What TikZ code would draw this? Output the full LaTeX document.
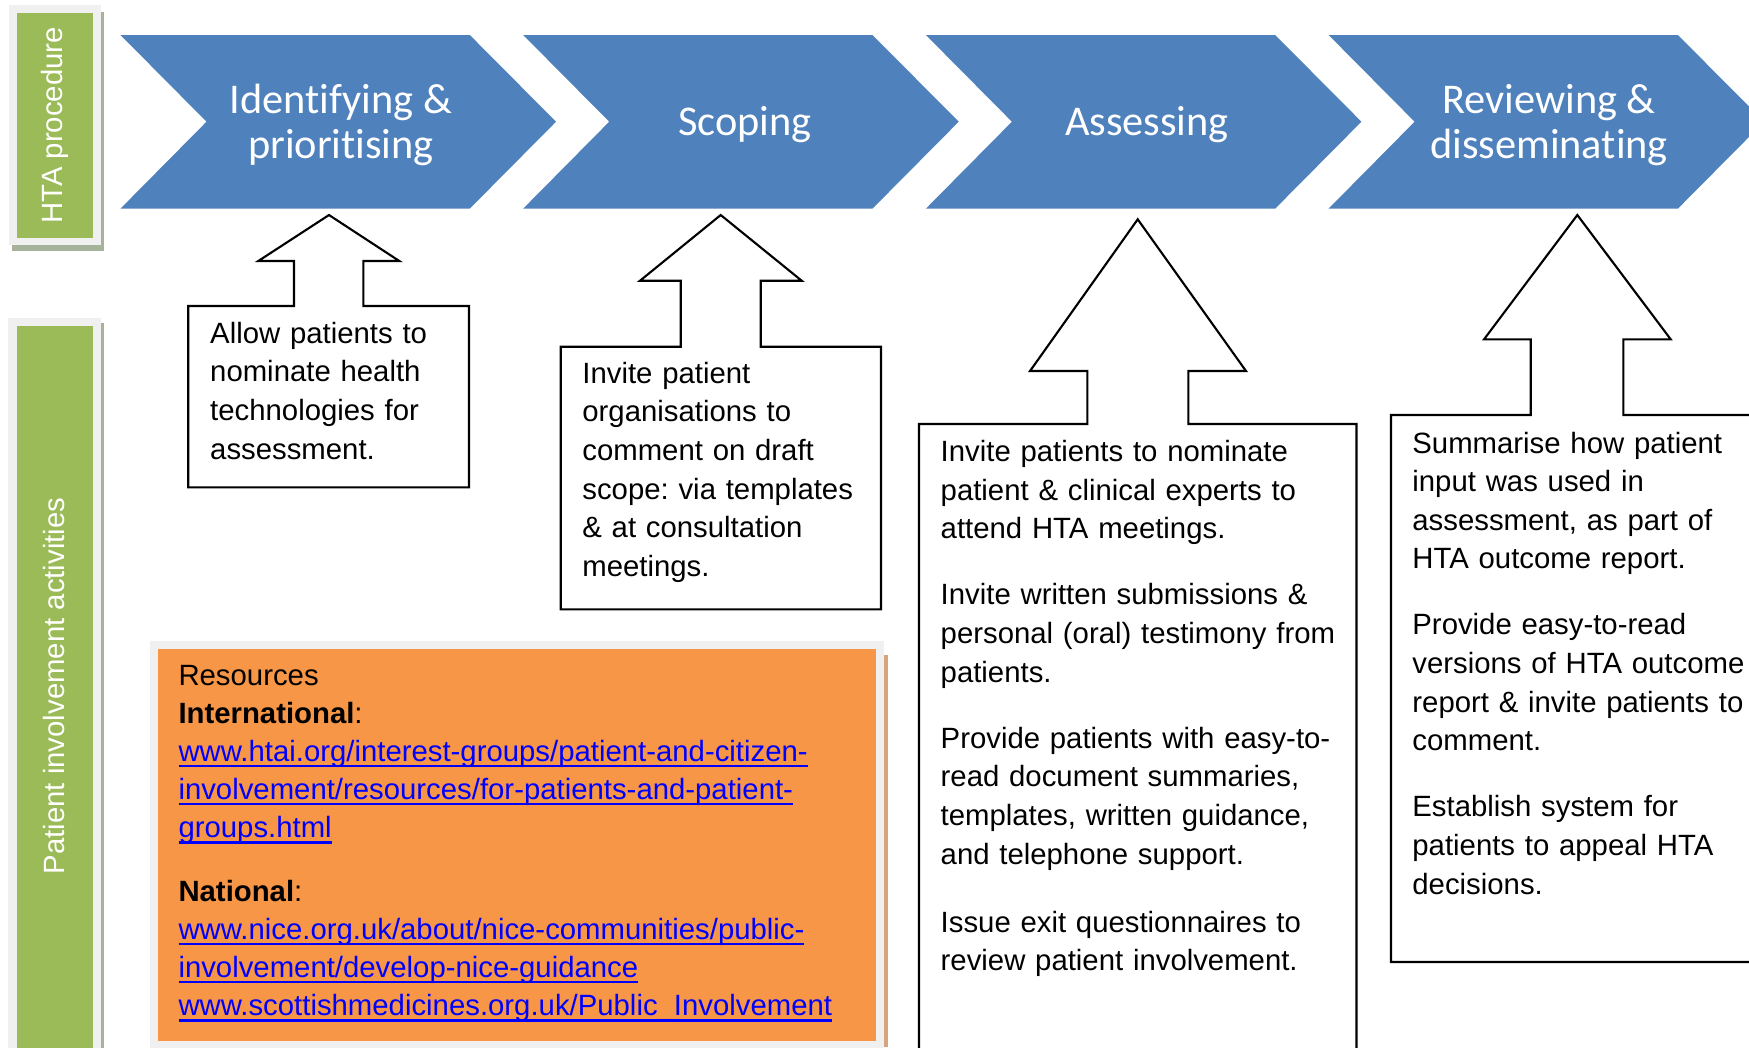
\documentclass[tikz,border=0pt]{standalone}
\usepackage{fontspec}
\setmainfont{Liberation Sans}
\newfontfamily\calib[Ligatures=NoCommon]{Carlito}
\usepackage{tikz}
\usetikzlibrary{calc}
\definecolor{stageblue}{HTML}{4F81BD}
\definecolor{bargreen}{HTML}{9BBB59}
\definecolor{barframe}{HTML}{F0F0F0}
\definecolor{barshadow}{HTML}{A7B29A}
\definecolor{resorange}{HTML}{F79646}
\definecolor{resshadow}{HTML}{D6A47E}
\definecolor{linkblue}{HTML}{0000FF}
\frenchspacing
\newcommand*\notefont{\fontsize{8.34pt}{10.98pt}\selectfont}
\newcommand*\stagefont{\calib\fontsize{12.04pt}{13pt}\selectfont}
\newsavebox\lnkbox
\newcommand*\lnk[1]{\textcolor{linkblue}{\sbox\lnkbox{#1}\rlap{\rule[-1.7pt]{\wd\lnkbox}{0.7pt}}\usebox\lnkbox}}
\tikzset{
  stage/.style={fill=stageblue},
  stagetext/.style={text=white, font=\stagefont, align=center, inner sep=0pt},
  note/.style={draw=black, fill=white, line width=0.6pt, line join=miter},
  notetext/.style={anchor=base west, inner sep=0pt, text width=8cm, align=left, font=\notefont},
  sidetext/.style={text=white, font=\notefont, rotate=90, inner sep=0pt}
}

\begin{document}
\begin{tikzpicture}[x=0.01cm, y=-0.01cm]
        \useasboundingbox (0,0) rectangle (1749,1047);
        \clip (0,0) rectangle (1749,1047);

        \fill[barshadow] (12,12) rectangle (104,251);
        \fill[barframe] (9,5) rectangle (101,245);
        \fill[bargreen] (17,13) rectangle (93,238);
        \fill[barshadow] (11,323) rectangle (104,1060);
        \fill[barframe] (8,318) rectangle (101,1060);
        \fill[bargreen] (17,325.5) rectangle (93,1060);

        \fill[stage] (120.5,35) -- (469.8,35) -- (556,121.7) -- (469.8,208.6) -- (120.5,208.6) -- (206.5,121.7) -- cycle;
        \fill[stage] (523.2,35) -- (872.5,35) -- (958.7,121.7) -- (872.5,208.6) -- (523.2,208.6) -- (609.2,121.7) -- cycle;
        \fill[stage] (925.9,35) -- (1275.2,35) -- (1361.4,121.7) -- (1275.2,208.6) -- (925.9,208.6) -- (1011.9,121.7) -- cycle;
        \fill[stage] (1328.6,35) -- (1677.9,35) -- (1764.1,121.7) -- (1677.9,208.6) -- (1328.6,208.6) -- (1414.6,121.7) -- cycle;

        \fill[resshadow] (884,655) rectangle (887.5,1047);
        \fill[barframe] (150,641) rectangle (884,1060);
        \fill[resorange] (158,649) rectangle (876,1041);

        \draw[note] (188.3,487.3) -- (188.3,306) -- (294,306) -- (294,261) -- (258.3,261) -- (329,215)
                -- (399.3,261) -- (363.3,261) -- (363.3,306) -- (469,306) -- (469,487.3) -- cycle;
        \draw[note] (560.7,609.3) -- (560.7,346.7) -- (680.7,346.7) -- (680.7,280.7) -- (640,280.7) -- (720.7,215)
                -- (801.7,280.7) -- (760.7,280.7) -- (760.7,346.7) -- (881,346.7) -- (881,609.3) -- cycle;
        \draw[note] (919,1070) -- (919,424) -- (1087.3,424) -- (1087.3,371) -- (1030,371) -- (1137.7,219.3)
                -- (1246,371) -- (1188.3,371) -- (1188.3,424) -- (1356.5,424) -- (1356.5,1070) -- cycle;
        \draw[note] (1391,962) -- (1391,415) -- (1530.7,415) -- (1530.7,339.3) -- (1484,339.3) -- (1577.3,215)
                -- (1670.7,339.3) -- (1623.3,339.3) -- (1623.3,415) -- (1780,415) -- (1780,962) -- cycle;

        \node[sidetext] (hta) at (55,125.5) {HTA procedure};
        \node[sidetext] (pia) at (54,686) {Patient involvement activities};

        \node[stagetext] (ident) at (341,125) {Identifying \&\\prioritising};
        \node[stagetext] (scop) at (745,125) {Scoping};
        \node[stagetext] (assess) at (1147,125) {Assessing};
        \node[stagetext] (review) at (1549,125) {Reviewing \&\\disseminating};

        \node[notetext] (allow) at (209.5,343.3) {Allow patients to\\nominate health\\technologies for\\assessment.};
        \node[notetext] (invite) at (581.7,383.3) {Invite patient\\organisations to\\comment on draft\\scope: via templates\\\& at consultation\\meetings.};
        \node[notetext] (experts) at (940,461.7) {Invite patients to nominate\\patient \& clinical experts to\\attend HTA meetings.\\[7.8pt]
                Invite written submissions \&\\personal (oral) testimony from\\patients.\\[7.8pt]
                Provide patients with easy-to-\\read document summaries,\\templates, written guidance,\\and telephone support.\\[8.4pt]
                Issue exit questionnaires to\\review patient involvement.};
        \node[notetext] (summ) at (1411.7,453) {Summarise how patient\\input was used in\\assessment, as part of\\HTA outcome report.\\[7.8pt]
                Provide easy-to-read\\versions of HTA outcome\\report \& invite patients to\\comment.\\[7.8pt]
                Establish system for\\patients to appeal HTA\\decisions.};
        \node[notetext, font=\fontsize{8.34pt}{10.85pt}\selectfont] (res) at (177.8,685) {Resources\\\textbf{International}:\\
                \lnk{www.htai.org/interest-groups/patient-and-citizen-}\\
                \lnk{involvement/resources/for-patients-and-patient-}\\
                \lnk{groups.html}\\[7.2pt]
                \textbf{National}:\\
                \lnk{www.nice.org.uk/about/nice-communities/public-}\\
                \lnk{involvement/develop-nice-guidance}\\
                \lnk{www.scottishmedicines.org.uk/Public\_Involvement}};
    \end{tikzpicture}
\end{document}
